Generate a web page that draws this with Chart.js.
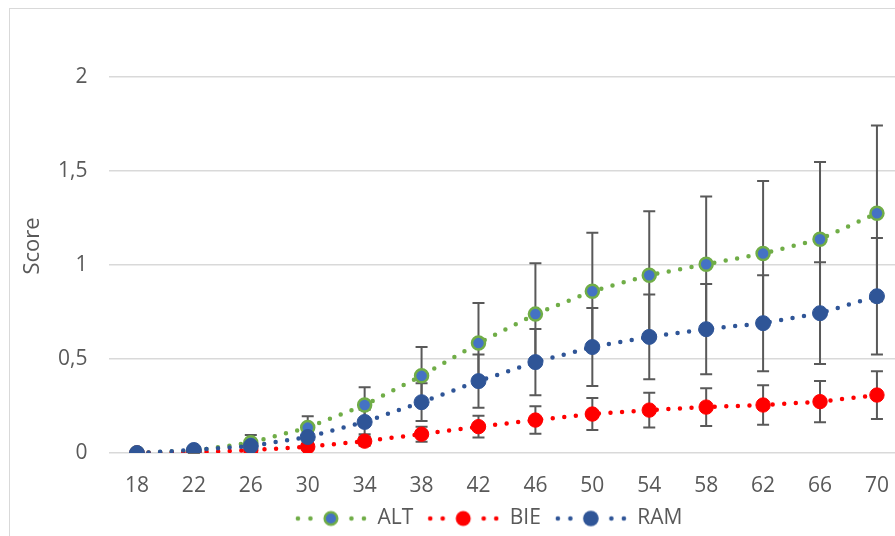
<!DOCTYPE html>
<html>
<head>
<meta charset="utf-8">
<script src="https://cdn.jsdelivr.net/npm/chart.js@4/dist/chart.umd.min.js"></script>
<style>
  html, body { margin: 0; padding: 0; background: #ffffff; overflow: hidden; }
  #page { position: relative; width: 895px; height: 536px; overflow: hidden; background: #fff; }
  #wrap { position: absolute; left: 0; top: 0; width: 920px; height: 536px; }
  #frame { position: absolute; left: 9px; top: 8px; width: 1000px; height: 1000px;
           border-left: 1px solid #d9d9d9; border-top: 1px solid #d9d9d9; pointer-events: none; }
</style>
</head>
<body>
<div id="page">
  <div id="wrap"><canvas id="c"></canvas></div>
  <div id="frame"></div>
</div>
<script>
// ---- data ----
const categories = ['18','22','26','30','34','38','42','46','50','54','58','62','66','70'];
const seriesNames = ['ALT', 'BIE', 'RAM'];
const altValues = [0, 0.012, 0.055, 0.135, 0.255, 0.41, 0.584, 0.738, 0.86, 0.945, 1.003, 1.06, 1.136, 1.274];
const altErrors = [0, 0.01, 0.04, 0.06, 0.095, 0.153, 0.213, 0.27, 0.31, 0.34, 0.36, 0.385, 0.41, 0.467];
const bieValues = [0, 0.004, 0.015, 0.033, 0.063, 0.10, 0.14, 0.175, 0.207, 0.228, 0.244, 0.255, 0.273, 0.308];
const bieErrors = [0, 0.003, 0.008, 0.015, 0.025, 0.04, 0.058, 0.073, 0.085, 0.092, 0.10, 0.105, 0.11, 0.127];
const ramValues = [0, 0.016, 0.037, 0.085, 0.165, 0.27, 0.382, 0.483, 0.563, 0.617, 0.658, 0.69, 0.743, 0.833];
const ramErrors = [0, 0.008, 0.02, 0.035, 0.065, 0.10, 0.142, 0.176, 0.207, 0.225, 0.24, 0.255, 0.27, 0.31];
const yTickValues = [0, 0.5, 1, 1.5, 2];
const yTickLabels = ['0', '0,5', '1', '1,5', '2'];
const yAxisTitle = 'Score';

// ---- styles ----
const FONT = '"Open Sans", "Liberation Sans", sans-serif';
const TEXT = '#595959';
const GREEN = '#70AD47', LBLUE = '#4472C4', RED = '#FF0000', DBLUE = '#2F5597';

function legendSample(lineColor, fill, border, bw, r) {
  const cv = document.createElement('canvas');
  cv.width = 82; cv.height = 20;
  const g = cv.getContext('2d');
  const o = 10;
  g.fillStyle = lineColor;
  [3, 15.5, 56.5, 69].forEach(x => { g.beginPath(); g.arc(o + x, 10, 2.3, 0, Math.PI * 2); g.fill(); });
  g.beginPath(); g.arc(o + 36, 10, r, 0, Math.PI * 2);
  g.fillStyle = fill; g.fill();
  if (bw > 0) { g.lineWidth = bw; g.strokeStyle = border; g.stroke(); }
  return cv;
}
const samples = [
  legendSample(GREEN, LBLUE, GREEN, 2.5, 6.3),
  legendSample(RED, RED, RED, 0, 7.5),
  legendSample(DBLUE, DBLUE, DBLUE, 0, 7.8)
];

const errorSets = [altErrors, bieErrors, ramErrors];

const errorBarPlugin = {
  id: 'errorBars',
  beforeDatasetsDraw(chart) {
    const { ctx, scales: { x, y } } = chart;
    ctx.save();
    ctx.strokeStyle = '#595959';
    ctx.lineWidth = 2;
    chart.data.datasets.forEach((ds, di) => {
      const errs = errorSets[di];
      ds.data.forEach((v, i) => {
        const e = errs[i];
        if (!e) return;
        const px = x.getPixelForValue(i);
        const yt = y.getPixelForValue(v + e);
        const yb = y.getPixelForValue(v - e);
        ctx.beginPath();
        ctx.moveTo(px, yt); ctx.lineTo(px, yb);
        ctx.moveTo(px - 6, yt); ctx.lineTo(px + 6, yt);
        ctx.moveTo(px - 6, yb); ctx.lineTo(px + 6, yb);
        ctx.stroke();
      });
    });
    ctx.restore();
  }
};

const legendShift = {
  id: 'legendShift',
  afterLayout(chart) {
    const dx = 31, dy = 3;
    chart.legend.left += dx;
    chart.legend.right += dx;
    chart.legend.top += dy;
    chart.legend.bottom += dy;
  }
};

function lineDs(label, data, color, fill, border, bw, r, order) {
  return {
    label, data, order,
    borderColor: color,
    borderWidth: 4.5,
    borderDash: [0, 11.6],
    borderCapStyle: 'round',
    tension: 0,
    fill: false,
    pointRadius: r,
    pointHoverRadius: r,
    pointBackgroundColor: fill,
    pointBorderColor: border,
    pointBorderWidth: bw
  };
}

new Chart(document.getElementById('c'), {
  type: 'line',
  data: {
    labels: categories,
    datasets: [
      lineDs(seriesNames[0], altValues, GREEN, LBLUE, GREEN, 2.5, 6.5, 3),
      lineDs(seriesNames[1], bieValues, RED, RED, RED, 1, 7.2, 2),
      lineDs(seriesNames[2], ramValues, DBLUE, DBLUE, DBLUE, 1, 7.5, 1)
    ]
  },
  options: {
    responsive: true,
    maintainAspectRatio: false,
    animation: false,
    devicePixelRatio: 1,
    layout: { padding: { top: 39, left: 0, right: 14.6, bottom: 0 } },
    plugins: {
      tooltip: { enabled: false },
      legend: {
        position: 'bottom',
        labels: {
          usePointStyle: true,
          pointStyleWidth: 82,
          padding: 4,
          color: TEXT,
          font: { family: FONT, size: 21 },
          generateLabels(chart) {
            return chart.data.datasets.map((ds, i) => ({
              text: ds.label,
              pointStyle: samples[i],
              fillStyle: 'transparent',
              strokeStyle: 'transparent',
              lineWidth: 0,
              fontColor: TEXT,
              datasetIndex: i,
              hidden: false
            }));
          }
        }
      }
    },
    scales: {
      x: {
        offset: true,
        grid: { display: false, drawTicks: false },
        border: { display: false },
        ticks: { color: TEXT, font: { family: FONT, size: 21 }, padding: 20, maxRotation: 0, autoSkip: false },
        afterFit(s) { s.height = 48; }
      },
      y: {
        min: 0, max: 2.2,
        afterBuildTicks(s) { s.ticks = yTickValues.map(v => ({ value: v })); },
        grid: { color: '#d9d9d9', lineWidth: 1.5, drawTicks: false },
        border: { display: false },
        ticks: {
          color: TEXT, font: { family: FONT, size: 21 }, padding: 21,
          callback(v) { const k = yTickValues.indexOf(v); return k >= 0 ? yTickLabels[k] : ''; }
        },
        title: { display: true, text: yAxisTitle, color: TEXT, font: { family: FONT, size: 22 }, padding: { top: 20, bottom: 0 } },
        afterFit(s) { s.width = 108.5; }
      }
    }
  },
  plugins: [errorBarPlugin, legendShift]
});
</script>
</body>
</html>
